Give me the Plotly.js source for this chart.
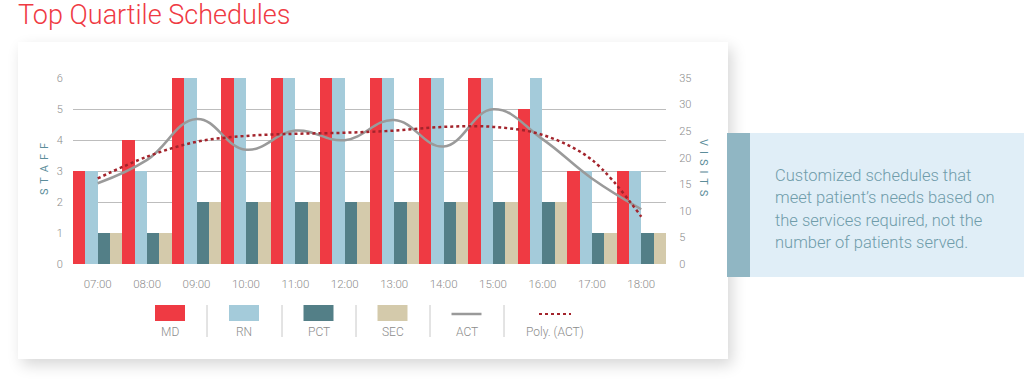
<!DOCTYPE html>
<html>
<head>
<meta charset="utf-8">
<script src="https://cdn.plot.ly/plotly-3.0.1.min.js"></script>
<style>
  html, body { margin:0; padding:0; background:#fff; width:1024px; height:385px; overflow:hidden; }
  #card { position:absolute; left:18px; top:42px; width:710px; height:317px; background:#fff;
          box-shadow: 4px 6px 14px rgba(0,0,0,0.16); }
  #chart { position:absolute; left:0; top:0; width:1024px; height:385px; }
</style>
</head>
<body>
<div id="card"></div>
<div id="chart"></div>
<script>
// ---- data ----
const hours = ["07:00","08:00","09:00","10:00","11:00","12:00","13:00","14:00","15:00","16:00","17:00","18:00"];
const md  = [3,4,6,6,6,6,6,6,6,5,3,3];
const rn  = [3,3,6,6,6,6,6,6,6,6,3,3];
const pct = [1,1,2,2,2,2,2,2,2,2,1,1];
const sec = [1,1,2,2,2,2,2,2,2,2,1,1];
const act  = [15.2,19.6,27.3,21.5,25.1,23.3,27.1,22.1,29.1,23.5,16.1,10.3];
const poly = [16.1,20.2,23.0,24.1,24.5,24.7,25.1,25.8,25.8,24.3,19.6,8.9];
const staffTicks = [0,1,2,3,4,5,6];
const visitTicks = [0,5,10,15,20,25,30,35];
const seriesNames = ["MD","RN","PCT","SEC","ACT","Poly. (ACT)"];
const calloutLines = ["Customized schedules that","meet patient\u2019s needs based on","the services required, not the","number of patients served."];

// ---- style ----
const colors = {MD:"#ef3a43", RN:"#a4cbda", PCT:"#537f87", SEC:"#d4caab", ACT:"#9a9a9a", POLY:"#a3242c"};
const L=73, R=666, T=78, B=264;
const PX = x => (x-L)/(R-L);
const PY = y => (B-y)/(B-T);
const FAM = "Roboto, 'Liberation Sans', sans-serif";
const tickFont = {family:FAM, size:11, color:"#8c8c8c", weight:300};

const traces = [
  {type:"bar", name:"MD",  x:hours, y:md,  marker:{color:colors.MD}},
  {type:"bar", name:"RN",  x:hours, y:rn,  marker:{color:colors.RN}},
  {type:"bar", name:"PCT", x:hours, y:pct, marker:{color:colors.PCT}},
  {type:"bar", name:"SEC", x:hours, y:sec, marker:{color:colors.SEC}},
  {type:"scatter", mode:"lines", name:"ACT", x:hours, y:act, yaxis:"y2",
   line:{color:colors.ACT, width:2.5, shape:"spline", smoothing:1.2}},
  {type:"scatter", mode:"lines", name:"Poly. (ACT)", x:hours, y:poly, yaxis:"y2",
   line:{color:colors.POLY, width:2.5, dash:"dot", shape:"spline", smoothing:1.0}}
];

const shapes = [];
const annotations = [];

// custom legend
const legendCenters = [170, 244, 318.5, 392.5, 466.5, 555];
const separators = [207, 282, 356, 430, 504];
const swatchColors = [colors.MD, colors.RN, colors.PCT, colors.SEC];
seriesNames.forEach((n,i)=>{
  const cx = legendCenters[i];
  if (i < 4) {
    shapes.push({type:"rect", xref:"paper", yref:"paper", x0:PX(cx-15), x1:PX(cx+15), y0:PY(321), y1:PY(305),
      fillcolor:swatchColors[i], line:{width:0}});
  } else if (i === 4) {
    shapes.push({type:"line", xref:"paper", yref:"paper", x0:PX(cx-15), x1:PX(cx+15), y0:PY(314), y1:PY(314),
      line:{color:colors.ACT, width:2.5}});
  } else {
    shapes.push({type:"line", xref:"paper", yref:"paper", x0:PX(cx-16), x1:PX(cx+16), y0:PY(314), y1:PY(314),
      line:{color:colors.POLY, width:2, dash:"dot"}});
  }
  annotations.push({xref:"paper", yref:"paper", x:PX(cx), y:PY(332), text:n, showarrow:false,
    xanchor:"center", yanchor:"middle", font:{family:FAM, size:12, color:"#8c8c8c", weight:300}});
});
separators.forEach(sx=>{
  shapes.push({type:"line", xref:"paper", yref:"paper", x0:PX(sx), x1:PX(sx), y0:PY(305), y1:PY(337),
    line:{color:"#c8c8c8", width:1}});
});

// callout box
shapes.push({type:"rect", xref:"paper", yref:"paper", x0:PX(749), x1:PX(1024), y0:PY(277), y1:PY(133),
  fillcolor:"#e0eef7", line:{width:0}});
shapes.push({type:"rect", xref:"paper", yref:"paper", x0:PX(727), x1:PX(750), y0:PY(277), y1:PY(133),
  fillcolor:"#90b6c3", line:{width:0}});
const lineYs = [175, 197.5, 220, 242.5];
calloutLines.forEach((t,i)=>{
  annotations.push({xref:"paper", yref:"paper", x:PX(773), y:PY(lineYs[i]), text:t, showarrow:false,
    xanchor:"left", yanchor:"middle", align:"left",
    font:{family:FAM, size:16.5, color:"#6f9caa", weight:300}});
});

// axis titles
annotations.push({xref:"paper", yref:"paper", x:PX(44), y:PY(169), text:"S\u2009 T\u2009 A\u2009 F\u2009 F", textangle:-90, showarrow:false,
  xanchor:"center", yanchor:"middle", font:{family:FAM, size:11, color:"#5c8d9a"}});
annotations.push({xref:"paper", yref:"paper", x:PX(704), y:PY(168), text:"V\u2009 I\u2009 S\u2009 I\u2009 T\u2009 S", textangle:90, showarrow:false,
  xanchor:"center", yanchor:"middle", font:{family:FAM, size:11, color:"#5c8d9a"}});

const layout = {
  width:1024, height:385,
  margin:{l:L, r:1024-R, t:T, b:385-B, pad:0},
  paper_bgcolor:"rgba(0,0,0,0)", plot_bgcolor:"rgba(0,0,0,0)",
  title:{text:"Top Quartile Schedules", x:18/1024, xref:"container", xanchor:"left",
         y:1-15/385, yref:"container", yanchor:"middle",
         font:{family:"Roboto, 'Open Sans', sans-serif", size:27, color:"#ef3a43", weight:300}},
  barmode:"group", bargap:0, bargroupgap:0,
  showlegend:false,
  xaxis:{type:"category", tickfont:{family:FAM, size:11.5, color:"#8c8c8c", weight:300},
         showgrid:false, zeroline:false, showline:false,
         ticks:"outside", ticklen:9, tickcolor:"rgba(0,0,0,0)", automargin:false},
  yaxis:{range:[0,6], tickvals:staffTicks, tickfont:tickFont, showgrid:true, gridcolor:"#bdbdbd", gridwidth:1,
         zeroline:false, showline:false, ticks:"outside", ticklen:7, tickcolor:"rgba(0,0,0,0)", automargin:false},
  yaxis2:{range:[0,35], tickvals:visitTicks, overlaying:"y", side:"right", tickfont:tickFont, showgrid:false,
          zeroline:false, showline:false, ticks:"outside", ticklen:10, tickcolor:"rgba(0,0,0,0)", automargin:false},
  shapes:shapes,
  annotations:annotations
};

Plotly.newPlot("chart", traces, layout, {staticPlot:true, displayModeBar:false});
</script>
</body>
</html>
